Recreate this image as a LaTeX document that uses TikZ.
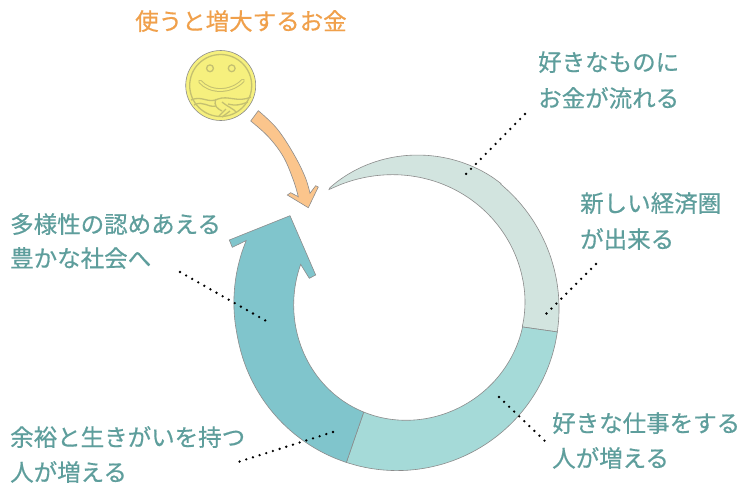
\documentclass[tikz,border=0pt]{standalone}
\usepackage{fontspec}
\newfontfamily\cjk[RawFeature={embolden=0.5}]{Noto Sans CJK JP}
\definecolor{teal1}{HTML}{5E9E9C}
\definecolor{orangeT}{HTML}{F0A04B}
\definecolor{lightseg}{HTML}{D2E4DF}
\definecolor{midseg}{HTML}{A5DAD8}
\definecolor{darkseg}{HTML}{80C5CC}
\definecolor{arrowor}{HTML}{FBC58C}
\definecolor{coinf}{HTML}{F6F07E}
\definecolor{coinl}{HTML}{C4C070}
\tikzset{
  lab/.style={font=\cjk\fontsize{23.5}{23.5}\selectfont,text=teal1,inner sep=0pt,anchor=base west},
  seg/.style={draw=black!45,line width=0.6pt},
  dotline/.style={line width=2.6pt,line cap=round,dash pattern=on 0pt off 7pt,black},
  coinline/.style={draw=coinl,line width=1.3pt}
}
% outer radius about (395,310), inner radius about (410,302)
\def\Ro#1{(162+2.5*cos(#1+35)+max(0,(#1-170)/10))}
\def\Rtop#1{(165-27*((-50-#1)/69)^1.5)}
\def\Ri#1{(115.3+4.2*exp(-((#1-120)/50)^2))}
\def\Rup#1{(115+23.6*((-10-#1)/116)^2)}
\begin{document}
\begin{tikzpicture}[x=1pt,y=-1pt]
\useasboundingbox (0,0) rectangle (750,488);
\fill[white] (0,0) rectangle (750,488);
\coordinate (tip) at (329,189.5);
% light segment
\draw[seg,fill=lightseg] (tip)
  -- plot[smooth,domain=-118:-50,samples=18] ({395+\Rtop{\x}*cos(\x)},{310+\Rtop{\x}*sin(\x)})
  -- plot[smooth,domain=-50:7.7,samples=14] ({395+\Ro{\x}*cos(\x)},{310+\Ro{\x}*sin(\x)})
  -- plot[smooth,domain=12.5:-10,samples=6] ({410+115*cos(\x)},{302+115*sin(\x)})
  -- plot[smooth,domain=-10:-125,samples=24] ({410+\Rup{\x}*cos(\x)},{302+\Rup{\x}*sin(\x)})
  -- cycle;
% middle segment
\draw[seg,fill=midseg] plot[smooth,domain=7.7:107.7,samples=24] ({395+\Ro{\x}*cos(\x)},{310+\Ro{\x}*sin(\x)})
  -- plot[smooth,domain=112.8:12.5,samples=24] ({410+\Ri{\x}*cos(\x)},{302+\Ri{\x}*sin(\x)})
  -- cycle;
% dark segment with arrow head
\draw[seg,fill=darkseg] plot[smooth,domain=107.7:205,samples=24] ({395+\Ro{\x}*cos(\x)},{310+\Ro{\x}*sin(\x)})
  -- (232.3,247.3) -- (229.3,240) -- (290,215.7) -- (315.7,275) -- (309.3,278.3)
  -- plot[smooth,domain=199:112.8,samples=22] ({410+\Ri{\x}*cos(\x)},{302+\Ri{\x}*sin(\x)})
  -- cycle;
% orange arrow
\draw[seg,fill=arrowor] (258.3,110.7) -- plot[smooth,tension=0.62] coordinates {(258.3,110.7)(276.7,128.3)(293.3,153.3)(305,176.7)(310,193.3)} -- (315.7,185.7) -- (318.3,187) -- (308.3,207.7) -- (287.3,195) -- (290.7,192.7) -- (298.3,196.7) -- plot[smooth,tension=0.62] coordinates {(298.3,196.7)(293.3,180)(283.3,156.7)(268.3,136.7)(250.7,121)} -- cycle;
% coin
\draw[draw=black!45,fill=coinf,line width=0.6pt] (220.7,85.5) circle (35);
\draw[coinline] (220.7,85.5) circle (31);
\draw[coinline] (210,68.3) circle (3.4);
\draw[coinline] (231.7,68.3) circle (3.4);
\draw[draw=coinl,line width=3.8pt,line cap=round] (200,81.5) .. controls (210,93) and (231,93) .. (243,80.5);
\draw[draw=coinf,line width=1.8pt,line cap=round] (200,81.5) .. controls (210,93) and (231,93) .. (243,80.5);
\draw[coinline] (191,100) .. controls (202,95) and (208,104) .. (218,99) .. controls (228,95) and (238,103) .. (251,97);
\draw[coinline] (194,105) .. controls (203,100) and (208,108) .. (216,106) (228,104) .. controls (236,106) and (240,105) .. (248,102);
\draw[coinline] (216,99) .. controls (213,106) and (218,109) .. (222,111) (222,102) .. controls (228,107) and (234,109) .. (236,112) (219,116) -- (226,109) (222,117) -- (230,111);
% dotted leader lines
\coordinate (a1) at (525,114); \coordinate (a2) at (465,175);
\coordinate (b1) at (596,264); \coordinate (b2) at (545,315);
\coordinate (c1) at (499,397); \coordinate (c2) at (546,442);
\coordinate (d1) at (333,432); \coordinate (d2) at (238,462);
\coordinate (e1) at (180,272); \coordinate (e2) at (268,322);
\draw[dotline] (a1) -- (a2);
\draw[dotline] (b1) -- (b2);
\draw[dotline] (c1) -- (c2);
\draw[dotline] (d1) -- (d2);
\draw[dotline] (e1) -- (e2);
% texts
\node[lab,text=orangeT] (t0) at (135,30) {使うと増大するお金};
\node[lab] (t1a) at (538,71) {好きなものに};
\node[lab] (t1b) at (538,107) {お金が流れる};
\node[lab] (t2a) at (580,212) {新しい経済圏};
\node[lab] (t2b) at (580,248) {が出来る};
\node[lab] (t3a) at (552,432) {好きな仕事をする};
\node[lab] (t3b) at (552,467) {人が増える};
\node[lab] (t4a) at (10,446) {余裕と生きがいを持つ};
\node[lab] (t4b) at (10,481) {人が増える};
\node[lab] (t5a) at (10,233) {多様性の認めあえる};
\node[lab] (t5b) at (10,267) {豊かな社会へ};
\end{tikzpicture}
\end{document}
